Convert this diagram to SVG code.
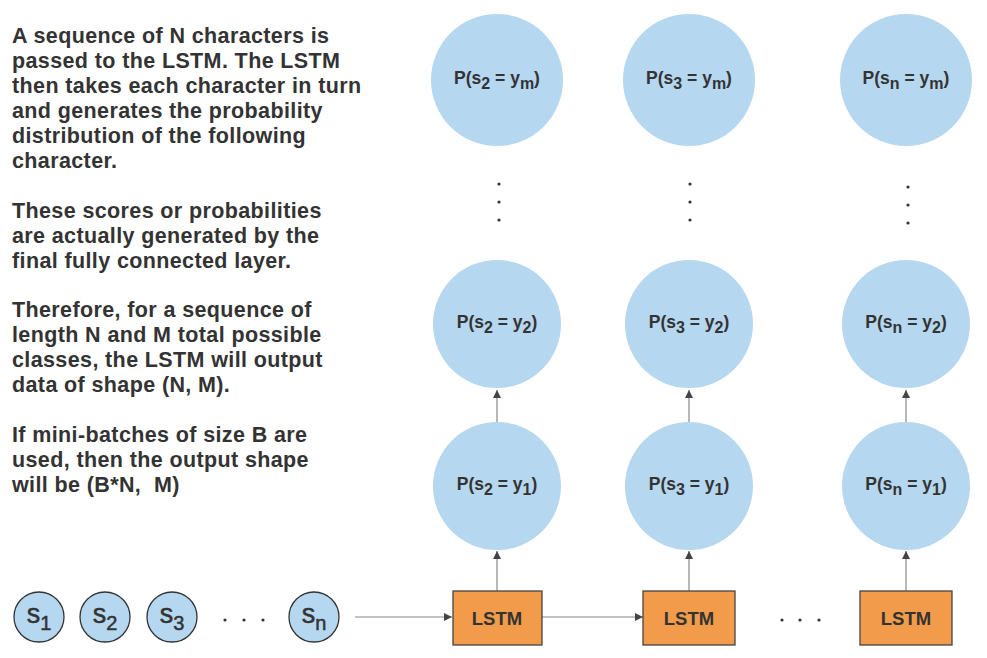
<svg xmlns="http://www.w3.org/2000/svg" width="987" height="658" viewBox="0 0 987 658">
<style>
.t{font-family:"Liberation Sans",Arial,sans-serif;font-weight:bold;font-size:21.5px;fill:#333;letter-spacing:0.38px}
.big{fill:#b5d7ef;stroke:none}
.small{fill:#b5d7ef;stroke:#333;stroke-width:1.3}
.lbl{font-family:"Liberation Sans",Arial,sans-serif;font-weight:bold;font-size:17.5px;fill:#333;text-anchor:middle}
.sl{font-family:"Liberation Sans",Arial,sans-serif;font-size:27px;fill:#333;text-anchor:middle;stroke:#333;stroke-width:0.5}
.lstm{fill:#f29b4a;stroke:#444;stroke-width:1.3}
.lt{font-family:"Liberation Sans",Arial,sans-serif;font-weight:bold;font-size:18.5px;fill:#333;text-anchor:middle}
.c{stroke:#888;stroke-width:1.2;fill:none;marker-end:url(#ah)}
.dot{fill:#333}
</style>
<defs>
<marker id="ah" viewBox="0 0 10 10" refX="10" refY="5" markerWidth="8" markerHeight="8" markerUnits="userSpaceOnUse" orient="auto">
<path d="M0,0 L10,5 L0,10 z" fill="#444"/>
</marker>
</defs>
<rect width="987" height="658" fill="#fff"/>
<g id="description">
<text class="t" x="12" y="43">A sequence of N characters is</text>
<text class="t" x="12" y="68">passed to the LSTM. The LSTM</text>
<text class="t" x="12" y="93">then takes each character in turn</text>
<text class="t" x="12" y="118">and generates the probability</text>
<text class="t" x="12" y="143">distribution of the following</text>
<text class="t" x="12" y="168">character.</text>
<text class="t" x="12" y="218">These scores or probabilities</text>
<text class="t" x="12" y="243">are actually generated by the</text>
<text class="t" x="12" y="268">final fully connected layer.</text>
<text class="t" x="12" y="317">Therefore, for a sequence of</text>
<text class="t" x="12" y="342">length N and M total possible</text>
<text class="t" x="12" y="367">classes, the LSTM will output</text>
<text class="t" x="12" y="392">data of shape (N, M).</text>
<text class="t" x="12" y="442">If mini-batches of size B are</text>
<text class="t" x="12" y="467">used, then the output shape</text>
<text class="t" x="12" y="492">will be (B*N,&#160; M)</text>
</g>
<g id="connectors">
<line class="c" x1="355" y1="617" x2="452" y2="617"/>
<line class="c" x1="542" y1="617" x2="643" y2="617"/>
<line class="c" x1="497" y1="591" x2="497" y2="551"/>
<line class="c" x1="497" y1="422" x2="497" y2="390"/>
<line class="c" x1="689" y1="591" x2="689" y2="551"/>
<line class="c" x1="689" y1="422" x2="689" y2="390"/>
<line class="c" x1="906" y1="591" x2="906" y2="551"/>
<line class="c" x1="906" y1="422" x2="906" y2="390"/>
</g>
<g id="input-s1"><circle class="small" cx="39" cy="617" r="25"/><text class="sl" x="39" y="623">s<tspan font-size="20" dy="7">1</tspan></text></g>
<g id="input-s2"><circle class="small" cx="105" cy="617" r="25"/><text class="sl" x="105" y="623">s<tspan font-size="20" dy="7">2</tspan></text></g>
<g id="input-s3"><circle class="small" cx="172" cy="617" r="25"/><text class="sl" x="172" y="623">s<tspan font-size="20" dy="7">3</tspan></text></g>
<g id="input-dots"><circle class="dot" cx="225" cy="620" r="1.6"/><circle class="dot" cx="244" cy="620" r="1.6"/><circle class="dot" cx="263" cy="620" r="1.6"/></g>
<g id="input-sn"><circle class="small" cx="314" cy="617" r="25"/><text class="sl" x="314" y="623">s<tspan font-size="20" dy="7">n</tspan></text></g>
<g id="lstm1"><rect class="lstm" x="453" y="591" width="89" height="54"/><text class="lt" x="497" y="625">LSTM</text></g>
<g id="lstm2"><rect class="lstm" x="643" y="591" width="92" height="54"/><text class="lt" x="689" y="625">LSTM</text></g>
<g id="lstm-dots"><circle class="dot" cx="782" cy="620" r="1.6"/><circle class="dot" cx="800" cy="620" r="1.6"/><circle class="dot" cx="819" cy="620" r="1.6"/></g>
<g id="lstm3"><rect class="lstm" x="860" y="591" width="92" height="54"/><text class="lt" x="906" y="625">LSTM</text></g>
<g id="p-s2-y1"><circle class="big" cx="497" cy="486" r="64"/><text class="lbl" x="497" y="490">P(s<tspan font-size="16" dy="5">2</tspan><tspan dy="-5"> = y</tspan><tspan font-size="16" dy="5">1</tspan><tspan dy="-5">)</tspan></text></g>
<g id="p-s3-y1"><circle class="big" cx="689" cy="486" r="64"/><text class="lbl" x="689" y="490">P(s<tspan font-size="16" dy="5">3</tspan><tspan dy="-5"> = y</tspan><tspan font-size="16" dy="5">1</tspan><tspan dy="-5">)</tspan></text></g>
<g id="p-sn-y1"><circle class="big" cx="906" cy="486" r="64"/><text class="lbl" x="906" y="490">P(s<tspan font-size="16" dy="5">n</tspan><tspan dy="-5"> = y</tspan><tspan font-size="16" dy="5">1</tspan><tspan dy="-5">)</tspan></text></g>
<g id="p-s2-y2"><circle class="big" cx="497" cy="324" r="64"/><text class="lbl" x="497" y="328">P(s<tspan font-size="16" dy="5">2</tspan><tspan dy="-5"> = y</tspan><tspan font-size="16" dy="5">2</tspan><tspan dy="-5">)</tspan></text></g>
<g id="p-s3-y2"><circle class="big" cx="689" cy="324" r="64"/><text class="lbl" x="689" y="328">P(s<tspan font-size="16" dy="5">3</tspan><tspan dy="-5"> = y</tspan><tspan font-size="16" dy="5">2</tspan><tspan dy="-5">)</tspan></text></g>
<g id="p-sn-y2"><circle class="big" cx="906" cy="324" r="64"/><text class="lbl" x="906" y="328">P(s<tspan font-size="16" dy="5">n</tspan><tspan dy="-5"> = y</tspan><tspan font-size="16" dy="5">2</tspan><tspan dy="-5">)</tspan></text></g>
<g id="vdots"><circle class="dot" cx="499" cy="184" r="1.6"/><circle class="dot" cx="499" cy="202" r="1.6"/><circle class="dot" cx="499" cy="220" r="1.6"/><circle class="dot" cx="690" cy="184" r="1.6"/><circle class="dot" cx="690" cy="202" r="1.6"/><circle class="dot" cx="690" cy="220" r="1.6"/><circle class="dot" cx="908" cy="187" r="1.6"/><circle class="dot" cx="908" cy="205" r="1.6"/><circle class="dot" cx="908" cy="223" r="1.6"/></g>
<g id="p-s2-ym"><circle class="big" cx="497" cy="80" r="66"/><text class="lbl" x="497" y="84">P(s<tspan font-size="16" dy="5">2</tspan><tspan dy="-5"> = y</tspan><tspan font-size="16" dy="5">m</tspan><tspan dy="-5">)</tspan></text></g>
<g id="p-s3-ym"><circle class="big" cx="689" cy="80" r="66"/><text class="lbl" x="689" y="84">P(s<tspan font-size="16" dy="5">3</tspan><tspan dy="-5"> = y</tspan><tspan font-size="16" dy="5">m</tspan><tspan dy="-5">)</tspan></text></g>
<g id="p-sn-ym"><circle class="big" cx="906" cy="80" r="66"/><text class="lbl" x="906" y="84">P(s<tspan font-size="16" dy="5">n</tspan><tspan dy="-5"> = y</tspan><tspan font-size="16" dy="5">m</tspan><tspan dy="-5">)</tspan></text></g>
</svg>
